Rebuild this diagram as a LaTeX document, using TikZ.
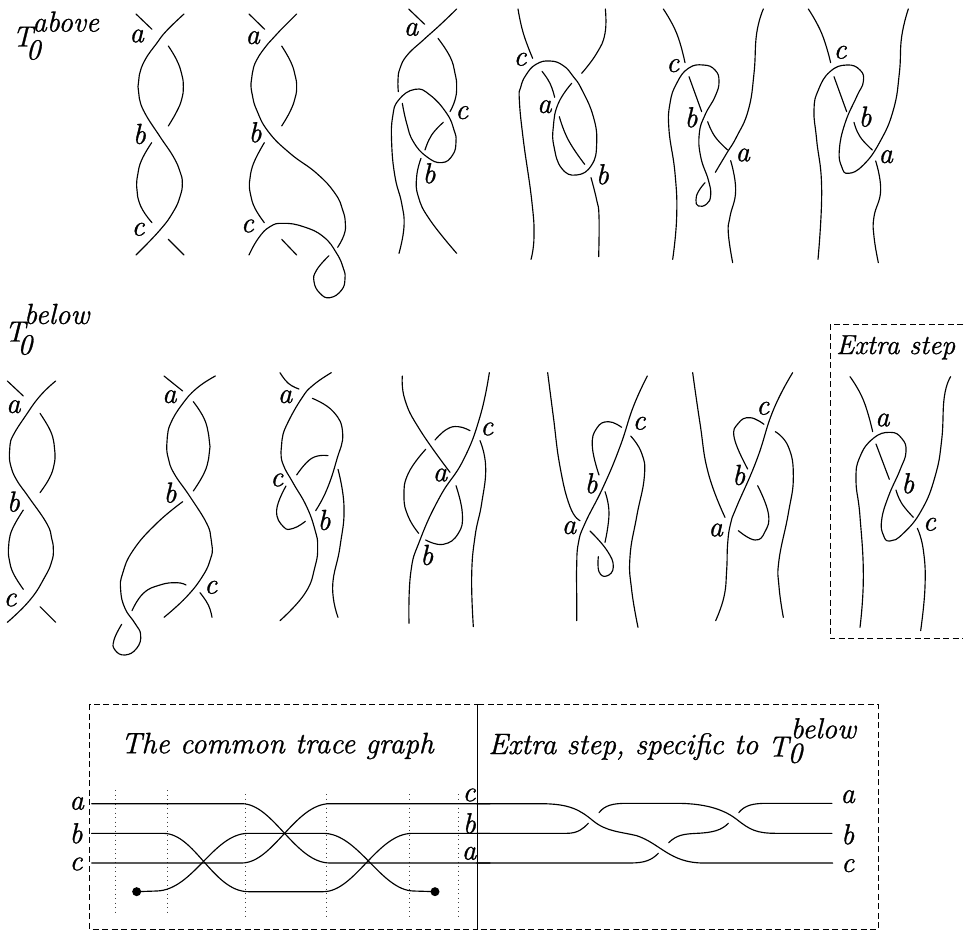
\documentclass[tikz,border=0pt]{standalone}
\usepackage{fontspec}
\newfontfamily\heavylm{Latin Modern Roman}[ItalicFeatures={FakeBold=1.0}]
\begin{document}
\begin{tikzpicture}[x=1pt,y=-1pt,
  strand/.style={draw=black,line width=1.15pt,line cap=round,line join=round},
  lab/.style={inner sep=0pt,outer sep=0pt,font=\fontsize{29}{32}\selectfont\heavylm\itshape},
  captext/.style={inner sep=0pt,outer sep=0pt,font=\fontsize{29.5}{32}\selectfont\heavylm\itshape},
  smallcap/.style={inner sep=0pt,outer sep=0pt,font=\fontsize{27.5}{32}\selectfont\heavylm\itshape},
  dashbox/.style={draw=black,line width=0.9pt,dash pattern=on 6pt off 3.5pt},
  guide/.style={draw=black!75,line width=0.9pt,dash pattern=on 1pt off 3.5pt},
  tip/.style={circle,fill=black,inner sep=0pt,minimum size=9pt},
  zoomA/.style={shift={(0,0)},x=0.33333pt,y=-0.33333pt},
  zoomB/.style={shift={(480,0)},x=0.33333pt,y=-0.33333pt},
  zoomC/.style={shift={(0,310)},x=0.33333pt,y=-0.33333pt},
  zoomD/.style={shift={(480,310)},x=0.33333pt,y=-0.33333pt},
  zoomE/.style={shift={(50,690)},x=0.33333pt,y=-0.33333pt},
  zoomF/.style={shift={(470,690)},x=0.33333pt,y=-0.33333pt}]
\newcommand\sk[1]{\draw[strand] plot[smooth,tension=0.8] coordinates {#1};}
\newcommand\lb[3]{\node[lab] (#1) at (#2) {#3};}
\useasboundingbox (0,0) rectangle (965,931);
% ---------- top row
\begin{scope}[zoomA]
\node[lab] (Ta) at (68,110) {T};
\node[lab] (Za) at (100,150) {0};
\node[lab] (Aa) at (197,65) {above};
% panel 1
\draw[strand] (408,42) -- (456,88);
\sk{(552,42) (500,92) (470,130) (435,180) (418,225) (414,260) (418,295) (435,340) (480,410) (520,470) (540,515) (547,550) (540,590) (520,635) (480,690) (408,765)}
\sk{(505,138) (530,180) (545,222) (550,260) (545,298) (530,335) (505,378)}
\sk{(455,428) (425,480) (413,525) (410,560) (413,590) (428,630) (456,668)}
\draw[strand] (505,718) -- (552,765);
\lb{a1}{410,108}{a}\lb{b1}{418,402}{b}\lb{c1}{414,688}{c}
% panel 2
\draw[strand] (747,42) -- (794,88);
\sk{(890,42) (840,92) (805,130) (770,180) (757,220) (753,250) (757,285) (770,330) (805,395) (870,460) (950,520) (1005,580) (1028,630) (1036,670) (1032,705) (1013,742)}
\sk{(845,138) (872,185) (885,225) (890,260) (885,295) (870,335) (845,378)}
\sk{(793,428) (765,480) (752,520) (748,550) (752,585) (765,625) (793,668)}
\sk{(747,765) (775,715) (810,680) (850,670) (910,680) (970,710) (1010,760) (1030,805) (1035,835) (1025,870) (990,893) (960,880) (942,845) (950,810) (987,767)}
\draw[strand] (845,718) -- (890,765);
\lb{a2}{758,113}{a}\lb{b2}{765,397}{b}\lb{c2}{742,678}{c}
% panel 3
\draw[strand] (1226,27) -- (1274,73);
\sk{(1370,27) (1320,75) (1270,120) (1222,165) (1200,205) (1194,240) (1195,275)}
\sk{(1314,115) (1350,170) (1365,220) (1370,260) (1365,300) (1350,335)}
\sk{(1197,760) (1212,680) (1205,610) (1185,530) (1175,430) (1178,350) (1196,300) (1245,268) (1290,285) (1340,340) (1362,390) (1368,425) (1358,465) (1325,488) (1280,470) (1240,425) (1220,370) (1207,310)}
\sk{(1330,367) (1295,405) (1275,450)}
\sk{(1263,475) (1250,530) (1255,590) (1290,660) (1370,760)}
\lb{a3}{1233,88}{a}\lb{c3}{1385,338}{c}\lb{b3}{1287,520}{b}
\end{scope}
\begin{scope}[zoomB]
% panel 4
\sk{(114,27) (130,100) (158,175)}
\sk{(376,27) (375,100) (350,160) (305,220)}
\sk{(153,778) (162,710) (155,600) (130,420) (118,300) (122,262) (138,225) (168,193) (210,183) (250,197) (280,230) (305,268) (340,350) (350,430) (335,495) (290,525) (245,505) (222,440) (220,380) (235,310) (275,250)}
\sk{(186,214) (210,250) (224,292)}
\sk{(238,350) (265,420) (314,493)}
\sk{(333,533) (350,600) (357,650) (356,770)}
\lb{c4}{120,178}{c}\lb{a4}{193,320}{a}\lb{b4}{367,523}{b}
% panel 5
\sk{(550,27) (590,100) (615,188)}
\sk{(850,27) (830,100) (822,220) (805,330) (770,410) (740,460) (706,517)}
\sk{(578,778) (590,650) (585,520) (567,390) (570,310) (590,250) (625,205) (670,195) (705,210) (717,245) (705,290) (675,345) (658,400) (662,470) (685,540) (692,585) (680,612) (655,618) (648,600) (655,575) (675,548)}
\draw[strand] (627,230) -- (665,335);
\sk{(683,365) (705,410) (743,450)}
\sk{(752,482) (767,570) (750,650) (745,700) (758,788)}
\lb{c5}{578,197}{c}\lb{b5}{633,352}{b}\lb{a5}{788,465}{a}
% panel 6
\sk{(985,27) (1025,100) (1052,188)}
\sk{(1285,27) (1265,110) (1258,220) (1240,330) (1200,425) (1150,495) (1105,520) (1085,500) (1078,450) (1095,370) (1130,290) (1150,245) (1140,210) (1100,195) (1050,215) (1015,270) (1002,330) (1010,420) (1025,570) (1014,778)}
\draw[strand] (1062,230) -- (1100,335);
\sk{(1122,367) (1140,410) (1177,450)}
\sk{(1187,483) (1202,570) (1182,650) (1182,710) (1195,788)}
\lb{c6}{1080,157}{c}\lb{b6}{1155,350}{b}\lb{a6}{1217,470}{a}
\end{scope}
% ---------- second row
\begin{scope}[zoomC]
\node[lab] (Tb) at (45,65) {T};
\node[lab] (Zb) at (75,105) {0};
\node[lab] (Ab) at (170,12) {below};
% panel 1
\draw[strand] (22,213) -- (70,258);
\sk{(167,213) (120,258) (75,320) (40,375) (30,405) (28,435) (33,470) (50,510) (85,560) (140,640) (155,685) (160,720) (155,755) (135,800) (90,870) (22,937)}
\sk{(120,310) (150,360) (162,400) (165,430) (162,465) (148,505) (120,548)}
\sk{(70,600) (38,655) (27,695) (25,720) (28,750) (40,790) (70,838)}
\draw[strand] (120,890) -- (167,937);
\lb{a7}{40,290}{a}\lb{b7}{40,575}{b}\lb{c7}{30,870}{c}
% panel 2
\draw[strand] (492,198) -- (548,243);
\sk{(646,198) (590,235) (545,285) (512,340) (502,380) (500,410) (505,445) (522,490) (570,560) (620,640) (633,685) (637,715) (632,745) (610,795) (560,860) (492,922)}
\sk{(580,275) (612,325) (626,375) (630,410) (626,445) (612,490) (580,543)}
\sk{(548,575) (470,640) (400,720) (368,790) (362,840) (375,895) (405,940) (422,975) (410,1015) (375,1035) (345,1020) (342,990) (365,943)}
\sk{(396,902) (430,850) (480,825) (530,818) (558,825)}
\sk{(600,848) (625,885) (636,922)}
\lb{a8}{508,260}{a}\lb{b8}{510,548}{b}\lb{c8}{632,832}{c}
% panel 3
\sk{(840,188) (865,220) (897,237)}
\sk{(994,188) (940,225) (905,265) (860,345) (846,390) (843,425) (850,465) (880,520) (920,590) (945,660) (953,710) (945,770) (915,850) (840,932)}
\sk{(937,265) (1000,305) (1028,370) (1010,450) (980,540) (947,602)}
\sk{(890,495) (935,445) (984,437)}
\sk{(858,528) (830,600) (850,650) (880,655) (916,634)}
\sk{(1014,478) (1032,590) (1020,710) (998,830) (1014,922)}
\lb{a9}{855,260}{a}\lb{c9}{830,510}{c}\lb{b9}{972,630}{b}
% panel 4
\sk{(1207,198) (1215,270) (1260,360) (1350,487)}
\sk{(1468,188) (1440,320) (1390,450) (1320,560) (1260,690) (1232,790) (1227,940)}
\sk{(1305,390) (1340,358) (1375,350) (1410,362)}
\sk{(1277,418) (1225,490) (1212,560) (1225,620) (1256,670)}
\sk{(1368,527) (1387,610) (1375,670) (1330,703) (1277,690)}
\sk{(1440,392) (1457,470) (1445,580) (1425,680) (1415,800) (1420,950)}
\lb{a10}{1320,495}{a}\lb{b10}{1280,735}{b}\lb{c10}{1460,357}{c}
\end{scope}
\begin{scope}[zoomD]
% panel 5
\sk{(203,188) (220,320) (240,470) (270,590) (300,632)}
\sk{(502,198) (460,290) (420,410) (370,530) (315,640) (295,700) (290,770) (290,850) (290,932)}
\sk{(425,352) (385,335) (350,355) (337,410) (357,495)}
\sk{(375,545) (387,610) (375,697)}
\sk{(330,663) (380,720) (400,770) (380,798) (357,785) (355,740)}
\sk{(452,378) (485,430) (493,500) (470,620) (450,740) (455,840) (474,952)}
\lb{b11}{333,520}{b}\lb{c11}{477,340}{c}\lb{a11}{267,653}{a}
% panel 6
\sk{(638,188) (660,340) (685,490) (735,622)}
\sk{(938,188) (880,300) (830,450) (770,590) (752,640) (743,700) (740,780) (732,860) (707,932)}
\sk{(852,343) (810,323) (775,340) (763,385) (803,477)}
\sk{(833,527) (865,610) (855,665) (825,690) (775,662)}
\sk{(886,365) (925,410) (940,500) (925,610) (897,750) (897,830) (910,922)}
\lb{c12}{848,295}{c}\lb{b12}{776,495}{b}\lb{a12}{707,660}{a}
% extra step
\draw[dashbox] (1450,43) -- (1050,43) -- (1050,985) -- (1450,985);
\node[smallcap] (Ex) at (1247,112) {Extra step};
\sk{(1110,200) (1150,270) (1178,365)}
\sk{(1412,200) (1393,260) (1385,390) (1365,500) (1325,600) (1270,670) (1230,693) (1210,675) (1205,630) (1225,560) (1260,480) (1278,425) (1265,385) (1230,367) (1180,385) (1140,440) (1128,510) (1140,620) (1150,800) (1140,952)}
\draw[strand] (1188,402) -- (1228,508);
\sk{(1248,540) (1265,580) (1300,622)}
\sk{(1312,655) (1330,720) (1335,830) (1322,962)}
\lb{a13}{1207,330}{a}\lb{b13}{1283,520}{b}\lb{c13}{1348,643}{c}
\end{scope}
% ---------- bottom
\begin{scope}[zoomE]
\draw[dashbox] (119,43) rectangle (1283,718);
\node[captext] (Tg) at (682,168) {The common trace graph};
\foreach \gx/\gtop/\gbot in {197/300/665,352/300/665,585/312/678,830/312/678,1077/312/678,1226/312/678}
  \draw[guide] (\gx,\gtop) -- (\gx,\gbot);
\draw[strand] (125,341) -- (575,341) .. controls (670,341) and (735,519) .. (840,519) -- (1320,519);
\draw[strand] (125,430) -- (340,430) .. controls (435,430) and (490,605) .. (595,605) -- (820,605) .. controls (915,605) and (982,430) .. (1087,430) -- (1320,430);
\draw[strand] (125,519) -- (575,519) .. controls (670,519) and (735,341) .. (840,341) -- (1320,341);
\node[tip] (d1) at (260,605) {};
\node[tip] (d2) at (1155,605) {};
\draw[strand] (d1.center) -- (320,603) .. controls (430,600) and (490,430) .. (595,430) -- (820,430) .. controls (925,430) and (992,600) .. (1090,603) -- (d2.center);
\lb{a14}{80,340}{a}\lb{b14}{78,430}{b}\lb{c14}{78,522}{c}
\lb{c15}{1257,315}{c}\lb{b15}{1258,400}{b}\lb{a15}{1257,490}{a}
\end{scope}
\begin{scope}[zoomF]
\draw[dashbox] (23,43) rectangle (1225,718);
\node[captext] (Es) at (460,170) {Extra step, specific to};
\node[lab] (Tc) at (925,170) {T};
\node[lab] (Zc) at (975,190) {0};
\node[lab] (Ac) at (1060,115) {below};
\draw[strand] (20,341) -- (210,341) .. controls (300,341) and (330,360) .. (370,393) .. controls (410,425) and (450,425) .. (500,437) .. controls (570,460) and (600,519) .. (700,519) -- (1088,519);
\draw[strand] (20,430) -- (290,430) .. controls (325,430) and (340,415) .. (355,400);
\draw[strand] (387,368) .. controls (405,345) and (430,340) .. (470,340) -- (620,340) .. controls (720,340) and (770,365) .. (800,388) .. controls (840,420) and (860,430) .. (920,430) -- (1086,430);
\draw[strand] (20,519) -- (480,519) .. controls (525,519) and (545,510) .. (565,490);
\draw[strand] (596,458) .. controls (620,435) and (640,432) .. (680,430) .. controls (730,428) and (755,420) .. (775,400);
\draw[strand] (806,368) .. controls (825,345) and (850,340) .. (890,340) -- (1086,340);
\lb{a16}{1133,320}{a}\lb{b16}{1133,433}{b}\lb{c16}{1133,527}{c}
\end{scope}
\end{tikzpicture}
\end{document}
